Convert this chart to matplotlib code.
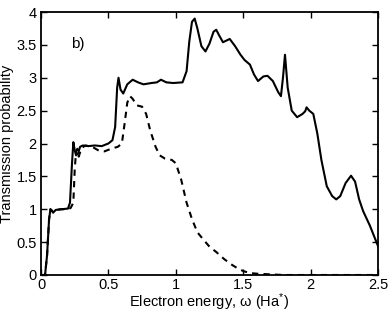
import matplotlib
matplotlib.use("Agg")
import matplotlib.pyplot as plt

# --------- DATA --------------------------------
solid_x = [0, 0.03, 0.045, 0.06, 0.07, 0.08, 0.09, 0.11, 0.15, 0.2, 0.215, 0.23,
           0.24, 0.25, 0.26, 0.275, 0.29, 0.31, 0.35, 0.4, 0.45, 0.5, 0.53, 0.55,
           0.565, 0.575, 0.59, 0.61, 0.64, 0.68, 0.72, 0.76, 0.82, 0.86, 0.89,
           0.93, 0.98, 1.05, 1.08, 1.1, 1.12, 1.14, 1.16, 1.19, 1.22, 1.25, 1.28,
           1.30, 1.32, 1.35, 1.40, 1.44, 1.48, 1.51, 1.55, 1.58, 1.61, 1.65, 1.68,
           1.72, 1.76, 1.78, 1.795, 1.81, 1.83, 1.86, 1.90, 1.94, 1.96, 1.97, 1.99,
           2.02, 2.05, 2.08, 2.12, 2.16, 2.19, 2.22, 2.26, 2.30, 2.33, 2.36, 2.39,
           2.44, 2.5]
solid_y = [0, 0, 0.3, 0.85, 1.0, 0.98, 0.95, 0.99, 1.0, 1.01, 1.1, 1.7,
           2.02, 1.9, 1.82, 1.85, 1.95, 1.97, 1.96, 1.97, 1.96, 2.0, 2.05, 2.25,
           2.85, 3.0, 2.82, 2.76, 2.9, 2.97, 2.93, 2.9, 2.92, 2.93, 2.97,
           2.93, 2.92, 2.93, 3.1, 3.55, 3.85, 3.9, 3.75, 3.48, 3.40, 3.52, 3.7,
           3.73, 3.65, 3.54, 3.59, 3.48, 3.35, 3.27, 3.2, 3.05, 2.95, 3.02, 3.03,
           2.95, 2.78, 2.72, 3.0, 3.35, 2.85, 2.5, 2.40, 2.45, 2.49, 2.55, 2.5,
           2.45, 2.15, 1.75, 1.35, 1.2, 1.15, 1.2, 1.4, 1.51, 1.42, 1.15, 0.97,
           0.75, 0.44]

dash_x = [0, 0.03, 0.045, 0.06, 0.07, 0.08, 0.09, 0.11, 0.15, 0.2, 0.22, 0.24,
          0.25, 0.26, 0.27, 0.28, 0.30, 0.33, 0.38, 0.43, 0.47, 0.52, 0.57, 0.6,
          0.62, 0.64, 0.66, 0.68, 0.71, 0.75, 0.78, 0.81, 0.85, 0.88, 0.92, 0.97,
          1.0, 1.04, 1.08, 1.12, 1.16, 1.2, 1.25, 1.3, 1.36, 1.42, 1.46, 1.5,
          1.55, 1.6, 1.7, 1.8, 2.0, 2.5]
dash_y = [0, 0, 0.3, 0.85, 1.0, 0.98, 0.95, 0.99, 1.0, 1.0, 1.02, 1.1,
          1.6, 1.88, 1.92, 1.8, 1.93, 1.97, 1.95, 1.89, 1.88, 1.92, 1.95, 2.0,
          2.3, 2.62, 2.72, 2.68, 2.58, 2.56, 2.45, 2.2, 1.95, 1.82, 1.77, 1.75,
          1.7, 1.45, 1.1, 0.85, 0.65, 0.55, 0.43, 0.35, 0.24, 0.15, 0.1, 0.06,
          0.03, 0.02, 0.01, 0.0, 0.0, 0.0]

x_ticks = [0, 0.5, 1, 1.5, 2, 2.5]
x_labels = ["0", "0.5", "1", "1.5", "2", "2.5"]
y_ticks = [0, 0.5, 1, 1.5, 2, 2.5, 3, 3.5, 4]
y_labels = ["0", "0.5", "1", "1.5", "2", "2.5", "3", "3.5", "4"]
# -----------------------------------------------

plt.rcParams['font.family'] = ['Liberation Sans', 'DejaVu Sans']
plt.rcParams['mathtext.fontset'] = 'custom'
plt.rcParams['mathtext.rm'] = 'Liberation Sans'
plt.rcParams['mathtext.it'] = 'Liberation Sans'

fig = plt.figure(figsize=(3.91, 3.12), dpi=100)
ax = fig.add_axes([41 / 391, 37 / 312, 337 / 391, 263 / 312])

ax.plot(solid_x, solid_y, color='black', lw=1.5, solid_joinstyle='round')
ax.plot(dash_x, dash_y, color='black', lw=1.5, linestyle=(0, (3, 2.5)))

ax.set_xlim(0, 2.5)
ax.set_ylim(0, 4)
ax.set_xticks(x_ticks)
ax.set_xticklabels(x_labels)
ax.set_yticks(y_ticks)
ax.set_yticklabels(y_labels)
ax.tick_params(direction='in', length=4, width=1, top=True, right=True,
               labelsize=10.5, pad=3)
ax.tick_params(axis='x', pad=2)
for s in ax.spines.values():
    s.set_linewidth(1.3)

ax.set_xlabel(r"Electron energy, $\omega$ (Ha$^{*}$)", fontsize=10.5, labelpad=0)
ax.set_ylabel("Transmission probability", fontsize=10.5, labelpad=2)
ax.text(0.27, 3.52, "b)", fontsize=11, va='center', ha='center')

fig.savefig("out.png", dpi=100)
